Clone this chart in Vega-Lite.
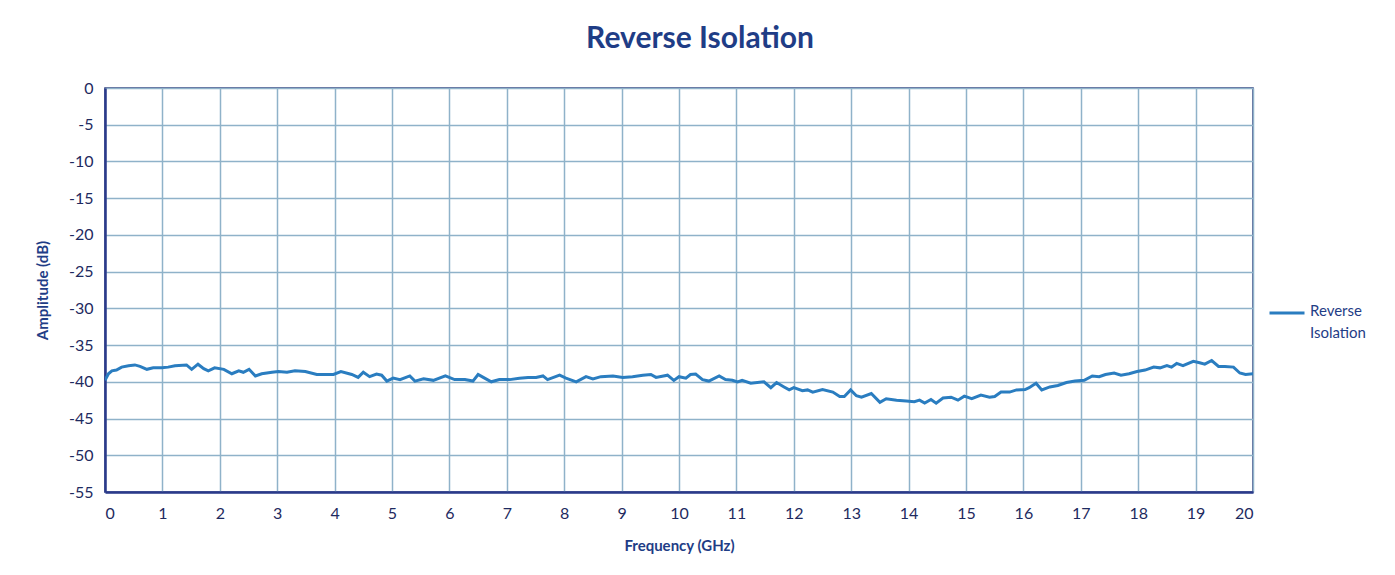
{
  "$schema": "https://vega.github.io/schema/vega-lite/v6.json",
  "width": 1148,
  "height": 404,
  "autosize": {"type": "none"},
  "padding": {"left": 105, "top": 88, "right": 142, "bottom": 83},
  "background": "white",
  "title": {
    "text": "Reverse Isolation",
    "font": "Lato",
    "fontSize": 30,
    "fontWeight": "bold",
    "color": "#1F3D86",
    "anchor": "middle",
    "dx": 21,
    "offset": 26
  },
  "config": {
    "view": {"stroke": "#2B3A7A", "strokeWidth": 1.5},
    "font": "Lato"
  },
  "data": {
    "values": [
      {"f": 0, "a": -39.8, "s": "Reverse Isolation"},
      {"f": 0.06, "a": -38.9, "s": "Reverse Isolation"},
      {"f": 0.12, "a": -38.5, "s": "Reverse Isolation"},
      {"f": 0.2, "a": -38.4, "s": "Reverse Isolation"},
      {"f": 0.29, "a": -38.0, "s": "Reverse Isolation"},
      {"f": 0.41, "a": -37.8, "s": "Reverse Isolation"},
      {"f": 0.52, "a": -37.7, "s": "Reverse Isolation"},
      {"f": 0.61, "a": -37.9, "s": "Reverse Isolation"},
      {"f": 0.73, "a": -38.3, "s": "Reverse Isolation"},
      {"f": 0.84, "a": -38.1, "s": "Reverse Isolation"},
      {"f": 0.99, "a": -38.1, "s": "Reverse Isolation"},
      {"f": 1.1, "a": -38.0, "s": "Reverse Isolation"},
      {"f": 1.22, "a": -37.8, "s": "Reverse Isolation"},
      {"f": 1.42, "a": -37.7, "s": "Reverse Isolation"},
      {"f": 1.51, "a": -38.3, "s": "Reverse Isolation"},
      {"f": 1.62, "a": -37.6, "s": "Reverse Isolation"},
      {"f": 1.72, "a": -38.2, "s": "Reverse Isolation"},
      {"f": 1.8, "a": -38.5, "s": "Reverse Isolation"},
      {"f": 1.91, "a": -38.1, "s": "Reverse Isolation"},
      {"f": 2.07, "a": -38.3, "s": "Reverse Isolation"},
      {"f": 2.21, "a": -38.9, "s": "Reverse Isolation"},
      {"f": 2.33, "a": -38.5, "s": "Reverse Isolation"},
      {"f": 2.41, "a": -38.7, "s": "Reverse Isolation"},
      {"f": 2.51, "a": -38.3, "s": "Reverse Isolation"},
      {"f": 2.62, "a": -39.2, "s": "Reverse Isolation"},
      {"f": 2.73, "a": -38.9, "s": "Reverse Isolation"},
      {"f": 2.91, "a": -38.7, "s": "Reverse Isolation"},
      {"f": 3.02, "a": -38.6, "s": "Reverse Isolation"},
      {"f": 3.17, "a": -38.7, "s": "Reverse Isolation"},
      {"f": 3.31, "a": -38.5, "s": "Reverse Isolation"},
      {"f": 3.49, "a": -38.6, "s": "Reverse Isolation"},
      {"f": 3.69, "a": -39.0, "s": "Reverse Isolation"},
      {"f": 3.98, "a": -39.0, "s": "Reverse Isolation"},
      {"f": 4.11, "a": -38.6, "s": "Reverse Isolation"},
      {"f": 4.3, "a": -39.0, "s": "Reverse Isolation"},
      {"f": 4.41, "a": -39.4, "s": "Reverse Isolation"},
      {"f": 4.5, "a": -38.7, "s": "Reverse Isolation"},
      {"f": 4.61, "a": -39.3, "s": "Reverse Isolation"},
      {"f": 4.73, "a": -38.95, "s": "Reverse Isolation"},
      {"f": 4.82, "a": -39.1, "s": "Reverse Isolation"},
      {"f": 4.91, "a": -39.9, "s": "Reverse Isolation"},
      {"f": 5.02, "a": -39.5, "s": "Reverse Isolation"},
      {"f": 5.14, "a": -39.7, "s": "Reverse Isolation"},
      {"f": 5.31, "a": -39.2, "s": "Reverse Isolation"},
      {"f": 5.4, "a": -39.9, "s": "Reverse Isolation"},
      {"f": 5.55, "a": -39.6, "s": "Reverse Isolation"},
      {"f": 5.72, "a": -39.8, "s": "Reverse Isolation"},
      {"f": 5.93, "a": -39.2, "s": "Reverse Isolation"},
      {"f": 6.09, "a": -39.7, "s": "Reverse Isolation"},
      {"f": 6.27, "a": -39.7, "s": "Reverse Isolation"},
      {"f": 6.41, "a": -39.9, "s": "Reverse Isolation"},
      {"f": 6.5, "a": -39.0, "s": "Reverse Isolation"},
      {"f": 6.59, "a": -39.4, "s": "Reverse Isolation"},
      {"f": 6.73, "a": -40.0, "s": "Reverse Isolation"},
      {"f": 6.87, "a": -39.7, "s": "Reverse Isolation"},
      {"f": 7.05, "a": -39.7, "s": "Reverse Isolation"},
      {"f": 7.22, "a": -39.5, "s": "Reverse Isolation"},
      {"f": 7.37, "a": -39.4, "s": "Reverse Isolation"},
      {"f": 7.51, "a": -39.4, "s": "Reverse Isolation"},
      {"f": 7.63, "a": -39.2, "s": "Reverse Isolation"},
      {"f": 7.71, "a": -39.7, "s": "Reverse Isolation"},
      {"f": 7.92, "a": -39.1, "s": "Reverse Isolation"},
      {"f": 8.03, "a": -39.5, "s": "Reverse Isolation"},
      {"f": 8.21, "a": -40.0, "s": "Reverse Isolation"},
      {"f": 8.38, "a": -39.3, "s": "Reverse Isolation"},
      {"f": 8.5, "a": -39.6, "s": "Reverse Isolation"},
      {"f": 8.64, "a": -39.3, "s": "Reverse Isolation"},
      {"f": 8.85, "a": -39.2, "s": "Reverse Isolation"},
      {"f": 9.02, "a": -39.4, "s": "Reverse Isolation"},
      {"f": 9.19, "a": -39.3, "s": "Reverse Isolation"},
      {"f": 9.37, "a": -39.1, "s": "Reverse Isolation"},
      {"f": 9.51, "a": -39.0, "s": "Reverse Isolation"},
      {"f": 9.6, "a": -39.4, "s": "Reverse Isolation"},
      {"f": 9.8, "a": -39.1, "s": "Reverse Isolation"},
      {"f": 9.91, "a": -39.8, "s": "Reverse Isolation"},
      {"f": 10.0, "a": -39.3, "s": "Reverse Isolation"},
      {"f": 10.12, "a": -39.5, "s": "Reverse Isolation"},
      {"f": 10.2, "a": -39.0, "s": "Reverse Isolation"},
      {"f": 10.29, "a": -38.95, "s": "Reverse Isolation"},
      {"f": 10.41, "a": -39.7, "s": "Reverse Isolation"},
      {"f": 10.52, "a": -39.9, "s": "Reverse Isolation"},
      {"f": 10.7, "a": -39.2, "s": "Reverse Isolation"},
      {"f": 10.81, "a": -39.7, "s": "Reverse Isolation"},
      {"f": 10.93, "a": -39.8, "s": "Reverse Isolation"},
      {"f": 11.02, "a": -40.0, "s": "Reverse Isolation"},
      {"f": 11.1, "a": -39.8, "s": "Reverse Isolation"},
      {"f": 11.25, "a": -40.2, "s": "Reverse Isolation"},
      {"f": 11.48, "a": -40.0, "s": "Reverse Isolation"},
      {"f": 11.6, "a": -40.8, "s": "Reverse Isolation"},
      {"f": 11.7, "a": -40.1, "s": "Reverse Isolation"},
      {"f": 11.83, "a": -40.7, "s": "Reverse Isolation"},
      {"f": 11.92, "a": -41.1, "s": "Reverse Isolation"},
      {"f": 12.0, "a": -40.8, "s": "Reverse Isolation"},
      {"f": 12.15, "a": -41.2, "s": "Reverse Isolation"},
      {"f": 12.24, "a": -41.1, "s": "Reverse Isolation"},
      {"f": 12.33, "a": -41.4, "s": "Reverse Isolation"},
      {"f": 12.5, "a": -41.05, "s": "Reverse Isolation"},
      {"f": 12.68, "a": -41.4, "s": "Reverse Isolation"},
      {"f": 12.8, "a": -42.0, "s": "Reverse Isolation"},
      {"f": 12.88, "a": -42.0, "s": "Reverse Isolation"},
      {"f": 12.99, "a": -41.1, "s": "Reverse Isolation"},
      {"f": 13.09, "a": -41.9, "s": "Reverse Isolation"},
      {"f": 13.18, "a": -42.1, "s": "Reverse Isolation"},
      {"f": 13.35, "a": -41.6, "s": "Reverse Isolation"},
      {"f": 13.5, "a": -42.8, "s": "Reverse Isolation"},
      {"f": 13.61, "a": -42.3, "s": "Reverse Isolation"},
      {"f": 13.79, "a": -42.5, "s": "Reverse Isolation"},
      {"f": 13.96, "a": -42.6, "s": "Reverse Isolation"},
      {"f": 14.1, "a": -42.7, "s": "Reverse Isolation"},
      {"f": 14.19, "a": -42.5, "s": "Reverse Isolation"},
      {"f": 14.28, "a": -42.9, "s": "Reverse Isolation"},
      {"f": 14.39, "a": -42.4, "s": "Reverse Isolation"},
      {"f": 14.48, "a": -42.9, "s": "Reverse Isolation"},
      {"f": 14.6, "a": -42.2, "s": "Reverse Isolation"},
      {"f": 14.74, "a": -42.1, "s": "Reverse Isolation"},
      {"f": 14.86, "a": -42.5, "s": "Reverse Isolation"},
      {"f": 14.97, "a": -41.95, "s": "Reverse Isolation"},
      {"f": 15.1, "a": -42.3, "s": "Reverse Isolation"},
      {"f": 15.26, "a": -41.8, "s": "Reverse Isolation"},
      {"f": 15.41, "a": -42.1, "s": "Reverse Isolation"},
      {"f": 15.5, "a": -42.0, "s": "Reverse Isolation"},
      {"f": 15.61, "a": -41.4, "s": "Reverse Isolation"},
      {"f": 15.76, "a": -41.4, "s": "Reverse Isolation"},
      {"f": 15.88, "a": -41.1, "s": "Reverse Isolation"},
      {"f": 16.03, "a": -41.05, "s": "Reverse Isolation"},
      {"f": 16.1, "a": -40.8, "s": "Reverse Isolation"},
      {"f": 16.22, "a": -40.2, "s": "Reverse Isolation"},
      {"f": 16.32, "a": -41.1, "s": "Reverse Isolation"},
      {"f": 16.46, "a": -40.7, "s": "Reverse Isolation"},
      {"f": 16.6, "a": -40.5, "s": "Reverse Isolation"},
      {"f": 16.75, "a": -40.1, "s": "Reverse Isolation"},
      {"f": 16.9, "a": -39.9, "s": "Reverse Isolation"},
      {"f": 17.06, "a": -39.8, "s": "Reverse Isolation"},
      {"f": 17.2, "a": -39.2, "s": "Reverse Isolation"},
      {"f": 17.32, "a": -39.3, "s": "Reverse Isolation"},
      {"f": 17.43, "a": -39.0, "s": "Reverse Isolation"},
      {"f": 17.58, "a": -38.8, "s": "Reverse Isolation"},
      {"f": 17.7, "a": -39.1, "s": "Reverse Isolation"},
      {"f": 17.84, "a": -38.9, "s": "Reverse Isolation"},
      {"f": 17.98, "a": -38.6, "s": "Reverse Isolation"},
      {"f": 18.12, "a": -38.4, "s": "Reverse Isolation"},
      {"f": 18.27, "a": -38.0, "s": "Reverse Isolation"},
      {"f": 18.38, "a": -38.1, "s": "Reverse Isolation"},
      {"f": 18.5, "a": -37.8, "s": "Reverse Isolation"},
      {"f": 18.58, "a": -38.0, "s": "Reverse Isolation"},
      {"f": 18.67, "a": -37.5, "s": "Reverse Isolation"},
      {"f": 18.78, "a": -37.8, "s": "Reverse Isolation"},
      {"f": 18.96, "a": -37.2, "s": "Reverse Isolation"},
      {"f": 19.07, "a": -37.4, "s": "Reverse Isolation"},
      {"f": 19.16, "a": -37.6, "s": "Reverse Isolation"},
      {"f": 19.28, "a": -37.1, "s": "Reverse Isolation"},
      {"f": 19.4, "a": -37.9, "s": "Reverse Isolation"},
      {"f": 19.51, "a": -37.9, "s": "Reverse Isolation"},
      {"f": 19.66, "a": -38.0, "s": "Reverse Isolation"},
      {"f": 19.77, "a": -38.8, "s": "Reverse Isolation"},
      {"f": 19.87, "a": -39.0, "s": "Reverse Isolation"},
      {"f": 20.0, "a": -38.9, "s": "Reverse Isolation"}
    ]
  },
  "mark": {"type": "line", "strokeWidth": 3, "clip": true},
  "encoding": {
    "x": {
      "field": "f",
      "type": "quantitative",
      "scale": {"domain": [0, 20], "nice": false, "zero": false},
      "axis": {
        "title": "Frequency (GHz)",
        "values": [0,1,2,3,4,5,6,7,8,9,10,11,12,13,14,15,16,17,18,19,20],
        "grid": true,
        "gridColor": "#8FB2C9",
        "gridWidth": 1.5,
        "gridOpacity": 1,
        "domainColor": "#2B3A8A",
        "domainWidth": 2.5,
        "ticks": false,
        "labelPadding": 13,
        "labelFontSize": 16,
        "labelColor": "#1E2A60",
        "labelFont": "Lato",
        "titleFont": "Lato",
        "titleFontSize": 15,
        "titleFontWeight": "bold",
        "titleColor": "#1F3D86",
        "titlePadding": 17
      }
    },
    "y": {
      "field": "a",
      "type": "quantitative",
      "scale": {"domain": [-55, 0], "nice": false, "zero": false},
      "axis": {
        "title": "Amplitude (dB)",
        "values": [0,-5,-10,-15,-20,-25,-30,-35,-40,-45,-50,-55],
        "labelExpr": "toString(datum.value)",
        "grid": true,
        "gridColor": "#8FB2C9",
        "gridWidth": 1.5,
        "gridOpacity": 1,
        "domainColor": "#2B3A8A",
        "domainWidth": 2.5,
        "ticks": false,
        "labelPadding": 12,
        "labelFontSize": 16,
        "labelColor": "#1E2A60",
        "labelFont": "Lato",
        "titleFont": "Lato",
        "titleFontSize": 15,
        "titleFontWeight": "bold",
        "titleColor": "#1F3D86",
        "titlePadding": 18
      }
    },
    "color": {
      "field": "s",
      "type": "nominal",
      "scale": {"domain": ["Reverse Isolation"], "range": ["#2A7DC0"]},
      "legend": {
        "title": null,
        "orient": "none",
        "legendX": 1163,
        "legendY": 206,
        "symbolType": "stroke",
        "symbolSize": 1225,
        "symbolStrokeWidth": 3,
        "labelExpr": "['Reverse', 'Isolation']",
        "labelFont": "Lato",
        "labelFontSize": 15,
        "labelColor": "#1F3D86",
        "labelOffset": 4,
        "labelBaseline": "top",
        "encode": {"labels": {"update": {"lineHeight": {"value": 22}, "dy": {"value": -9}}}}
      }
    }
  }
}
